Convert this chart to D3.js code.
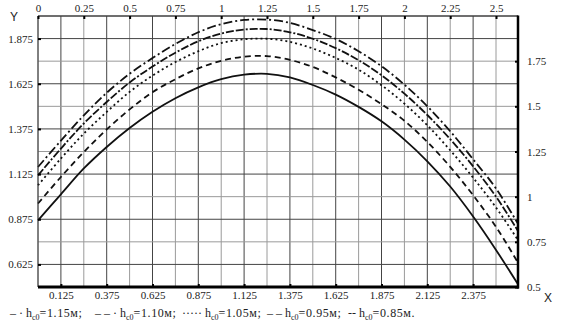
<!DOCTYPE html>
<html>
<head>
<meta charset="utf-8">
<script src="https://cdn.jsdelivr.net/npm/d3@7"></script>
<style>
  html, body { margin: 0; padding: 0; background: #fff; }
  svg { display: block; }
  .axis path { display: none; }
</style>
</head>
<body>
<svg id="chart" width="570" height="327"></svg>
<script>
// Abscissa sample points shared by every curve
const xs = [0, 0.125, 0.25, 0.375, 0.5, 0.625, 0.75, 0.875, 1.0, 1.125, 1.25, 1.375,
            1.5, 1.625, 1.75, 1.875, 2.0, 2.125, 2.25, 2.375, 2.5, 2.62];

// Y values for each initial depth h_c0
const y115 = [1.164, 1.31, 1.45, 1.575, 1.68, 1.767, 1.845, 1.91, 1.955, 1.978, 1.98, 1.962,
              1.922, 1.873, 1.805, 1.722, 1.62, 1.5, 1.362, 1.207, 1.045, 0.85];
const y110 = [1.118, 1.266, 1.405, 1.524, 1.632, 1.72, 1.797, 1.86, 1.903, 1.925, 1.928, 1.91,
              1.874, 1.822, 1.755, 1.672, 1.57, 1.452, 1.318, 1.168, 1.0, 0.81];
const y105 = [1.063, 1.211, 1.349, 1.469, 1.58, 1.67, 1.745, 1.805, 1.85, 1.871, 1.874, 1.857,
              1.82, 1.768, 1.703, 1.617, 1.515, 1.395, 1.257, 1.105, 0.94, 0.76];
const y095 = [0.962, 1.109, 1.247, 1.372, 1.483, 1.578, 1.65, 1.71, 1.752, 1.775, 1.778, 1.757,
              1.718, 1.66, 1.592, 1.512, 1.42, 1.303, 1.165, 1.008, 0.833, 0.635];
const y085 = [0.869, 1.013, 1.156, 1.275, 1.38, 1.47, 1.545, 1.605, 1.65, 1.675, 1.68, 1.66,
              1.618, 1.565, 1.497, 1.417, 1.316, 1.196, 1.056, 0.89, 0.705, 0.515];

// Tick labels
const topTicks = [0, 0.25, 0.5, 0.75, 1, 1.25, 1.5, 1.75, 2, 2.25, 2.5];
const bottomTicks = [0.125, 0.375, 0.625, 0.875, 1.125, 1.375, 1.625, 1.875, 2.125, 2.375];
const leftTicks = [0.625, 0.875, 1.125, 1.375, 1.625, 1.875];
const rightTicks = [0.5, 0.75, 1, 1.25, 1.5, 1.75];

// Legend entries: line symbol and h_c0 value
const legendSymbols = ["– · ", "– – · ", "····· ", "– – ", "-- "];
const legendValues = ["=1.15м;", "=1.10м;", "=1.05м;", "=0.95м;", "=0.85м."];

const series = [
  { values: y115, dash: "9,3,2,3" },
  { values: y110, dash: "8,2,8,2,2,2" },
  { values: y105, dash: "2,3" },
  { values: y095, dash: "6,4" },
  { values: y085, dash: null }
];

const serif = "Liberation Serif, Times New Roman, serif";
const svg = d3.select("#chart");
const L = 38, R = 518, T = 16, B = 287;

const x = d3.scaleLinear().domain([0, 2.62]).range([L, R]);
const y = d3.scaleLinear().domain([0.5, 2.0]).range([B, T]);

// Grid: every 0.125 in both directions, labelled lines slightly darker
const gridX = d3.range(0, 2.62, 0.125);
const gridY = d3.range(0.5, 2.0001, 0.125);
const g = svg.append("g");
g.selectAll("line.gx").data(gridX).join("line")
  .attr("x1", d => x(d)).attr("x2", d => x(d))
  .attr("y1", T).attr("y2", B)
  .attr("stroke", d => (Math.round(d / 0.125) % 2 === 1) ? "#444" : "#9a9a9a")
  .attr("stroke-width", 1);
g.selectAll("line.gy").data(gridY).join("line")
  .attr("x1", L).attr("x2", R)
  .attr("y1", d => y(d)).attr("y2", d => y(d))
  .attr("stroke", d => (Math.round((d - 0.5) / 0.125) % 2 === 1) ? "#444" : "#9a9a9a")
  .attr("stroke-width", 1);

// Curves
const line = d3.line()
  .x((d, i) => x(xs[i]))
  .y(d => y(d))
  .curve(d3.curveCatmullRom);

svg.append("g").selectAll("path").data(series).join("path")
  .attr("d", d => line(d.values))
  .attr("fill", "none")
  .attr("stroke", "#111")
  .attr("stroke-width", 1.8)
  .attr("stroke-dasharray", d => d.dash);

// Frame
svg.append("line").attr("x1", L).attr("x2", R).attr("y1", T).attr("y2", T).attr("stroke", "#111").attr("stroke-width", 1);
svg.append("line").attr("x1", L).attr("x2", L).attr("y1", T).attr("y2", B).attr("stroke", "#333").attr("stroke-width", 1);
svg.append("line").attr("x1", R).attr("x2", R).attr("y1", T - 0.5).attr("y2", B + 1.5).attr("stroke", "#000").attr("stroke-width", 2.5);
svg.append("line").attr("x1", L).attr("x2", R + 1).attr("y1", B).attr("y2", B).attr("stroke", "#000").attr("stroke-width", 3);

// Axes
const fmt = d => String(d);
function styleAxis(sel) {
  sel.attr("font-family", serif).attr("font-size", 11);
  sel.selectAll(".tick text").attr("fill", "#222");
  sel.selectAll(".tick line").attr("stroke", "#000").attr("stroke-width", 2);
}
svg.append("g").attr("class", "axis").attr("transform", `translate(0,${T})`)
  .call(d3.axisBottom(x).tickValues(topTicks).tickFormat(fmt).tickSize(3).tickPadding(-15))
  .call(styleAxis);
svg.append("g").attr("class", "axis").attr("transform", `translate(0,${B})`)
  .call(d3.axisTop(x).tickValues(bottomTicks).tickFormat(fmt).tickSize(3).tickPadding(-15))
  .call(styleAxis);
svg.append("g").attr("class", "axis").attr("transform", `translate(${L},0)`)
  .call(d3.axisRight(y).tickValues(leftTicks).tickFormat(fmt).tickSize(3).tickPadding(-8))
  .call(styleAxis)
  .selectAll(".tick text").attr("text-anchor", "end");
svg.append("g").attr("class", "axis").attr("transform", `translate(${R},0)`)
  .call(d3.axisLeft(y).tickValues(rightTicks).tickFormat(fmt).tickSize(3).tickPadding(-12))
  .call(styleAxis)
  .selectAll(".tick text").attr("text-anchor", "start");

// Axis names
svg.append("text").attr("x", 10).attr("y", 21).text("Y")
  .attr("font-family", "Liberation Sans, Arial, sans-serif").attr("font-size", 12).attr("fill", "#222");
svg.append("text").attr("x", 544).attr("y", 302).text("X")
  .attr("font-family", "Liberation Sans, Arial, sans-serif").attr("font-size", 12).attr("fill", "#222");

// Legend row
const legendX = [10, 95, 182, 267, 348];
const lg = svg.append("g")
  .attr("font-family", serif)
  .attr("font-size", 12).attr("fill", "#222");
legendSymbols.forEach((s, i) => {
  const t = lg.append("text").attr("x", legendX[i]).attr("y", 317);
  t.append("tspan").text(s + "h");
  t.append("tspan").attr("font-size", 8).attr("dy", 3).text("c0");
  t.append("tspan").attr("dy", -3).attr("letter-spacing", 0.6).text(legendValues[i]);
});
</script>
</body>
</html>
